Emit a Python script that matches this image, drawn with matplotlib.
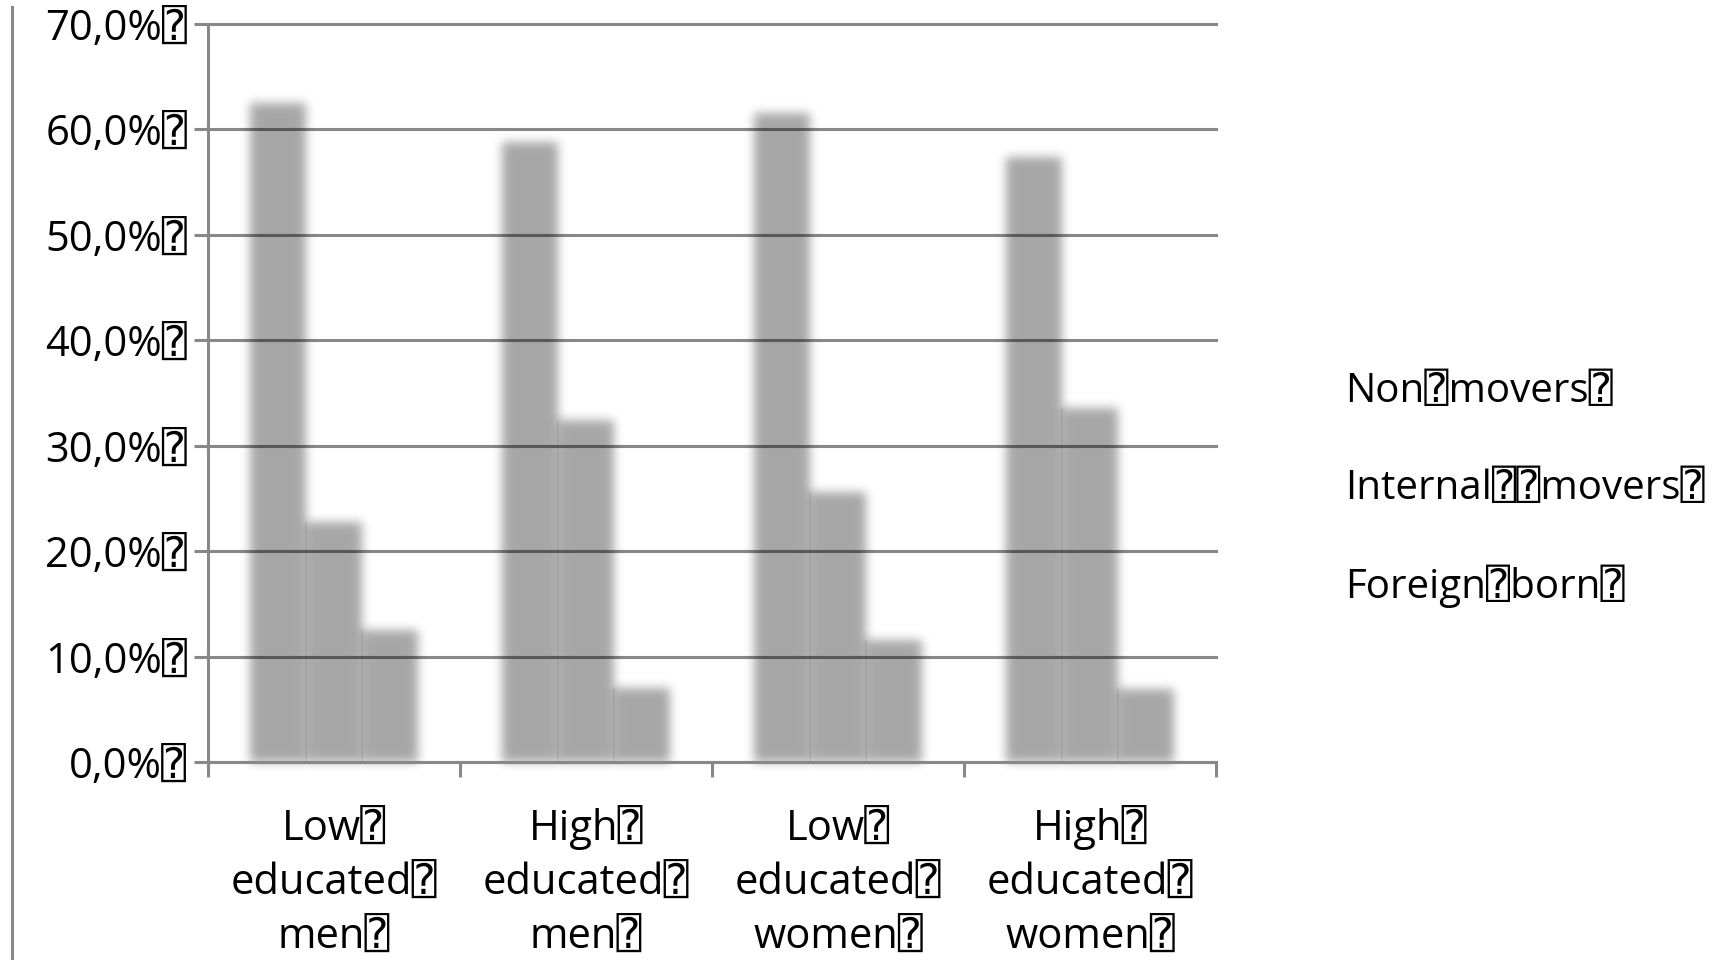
import numpy as np
import matplotlib
matplotlib.use("Agg")
import matplotlib.pyplot as plt
from matplotlib.lines import Line2D

plt.rcParams['font.family'] = ['Open Sans', 'DejaVu Sans', 'DejaVu Sans Mono']

BOX = "\u2370"

groups = [["Low" + BOX, "educated" + BOX, "men" + BOX],
          ["High" + BOX, "educated" + BOX, "men" + BOX],
          ["Low" + BOX, "educated" + BOX, "women" + BOX],
          ["High" + BOX, "educated" + BOX, "women" + BOX]]
series = ["Non" + BOX + "movers" + BOX,
          "Internal" + BOX + BOX + "movers" + BOX,
          "Foreign" + BOX + "born" + BOX]
non_movers = [0.625, 0.588, 0.616, 0.574]
internal_movers = [0.228, 0.324, 0.256, 0.336]
foreign_born = [0.125, 0.070, 0.116, 0.069]
yticks = [0.0, 0.1, 0.2, 0.3, 0.4, 0.5, 0.6, 0.7]

GRID = '#888888'
FS = 30


def blur(im, dpi):
    # soft gaussian edge around each bar
    sigma = 5.0 * dpi / 100.0
    pad = int(3 * sigma)
    src = np.pad(im, [(pad, pad), (pad, pad), (0, 0)], "constant")
    x = np.arange(-pad, pad + 1)
    k = np.exp(-x ** 2 / (2 * sigma ** 2))
    k /= k.sum()
    tmp = np.zeros_like(src)
    for i, w in enumerate(k):
        tmp += w * np.roll(src, i - pad, axis=0)
    out = np.zeros_like(src)
    for i, w in enumerate(k):
        out += w * np.roll(tmp, i - pad, axis=1)
    return out, -pad, -pad


fig = plt.figure(figsize=(17.12, 9.6), dpi=100)
ax = fig.add_axes([208 / 1712, 1 - 762 / 960, 1008 / 1712, 738 / 960])

x = np.arange(len(groups))
w = 1 / 4.5
values = [non_movers, internal_movers, foreign_born]
for i, vals in enumerate(values):
    bars = ax.bar(x + (i - 1) * w, vals, w, color='black', alpha=0.35,
                  linewidth=0, label=series[i], zorder=2)
    for b in bars:
        b.set_agg_filter(blur)

# faint seams where neighbouring bars meet
for i in range(len(values) - 1):
    tops = np.minimum(values[i], values[i + 1])
    ax.vlines(x + (i - 0.5) * w, 0, tops, color='black', alpha=0.08,
              linewidth=1.2, zorder=3)

ax.set_xlim(-0.5, len(groups) - 0.5)
ax.set_ylim(0, 0.7)
ax.set_yticks(yticks)
ax.set_yticklabels([f"{v * 100:.1f}".replace('.', ',') + "%" + BOX for v in yticks],
                   fontsize=FS)
ax.set_xticks(np.arange(-0.5, len(groups)), [''] * (len(groups) + 1))
ax.tick_params(axis='x', which='major', length=11, width=2.2, color=GRID)
ax.tick_params(axis='y', length=10, width=2.2, color=GRID, pad=5)

# category names, one line at a time so the baselines line up
for xi, lines in zip(x, groups):
    for j, line in enumerate(lines):
        ax.annotate(line, xy=(xi, 0), xycoords=('data', 'axes fraction'),
                    xytext=(0, -(78 + 54 * j) * 0.72), textcoords='offset points',
                    ha='center', va='baseline', fontsize=FS)

ax.set_axisbelow(True)
ax.yaxis.grid(True, color=GRID, linewidth=2.2)
for gl in ax.get_ygridlines():
    gl.set_clip_on(False)
for s in ['top', 'right']:
    ax.spines[s].set_visible(False)
for s in ['left', 'bottom']:
    ax.spines[s].set_color(GRID)
    ax.spines[s].set_linewidth(2.2)

# series names at the right, no swatches
for name, yy in zip(series, [392, 489, 586]):
    fig.text(1345 / 1712, 1 - yy / 960, name, fontsize=FS - 1, va='center', ha='left')

fig.add_artist(Line2D([12 / 1712, 12 / 1712], [0, 1 - 7 / 960],
                      transform=fig.transFigure, color=GRID, linewidth=2.2))

fig.savefig("out.png", dpi=100)
